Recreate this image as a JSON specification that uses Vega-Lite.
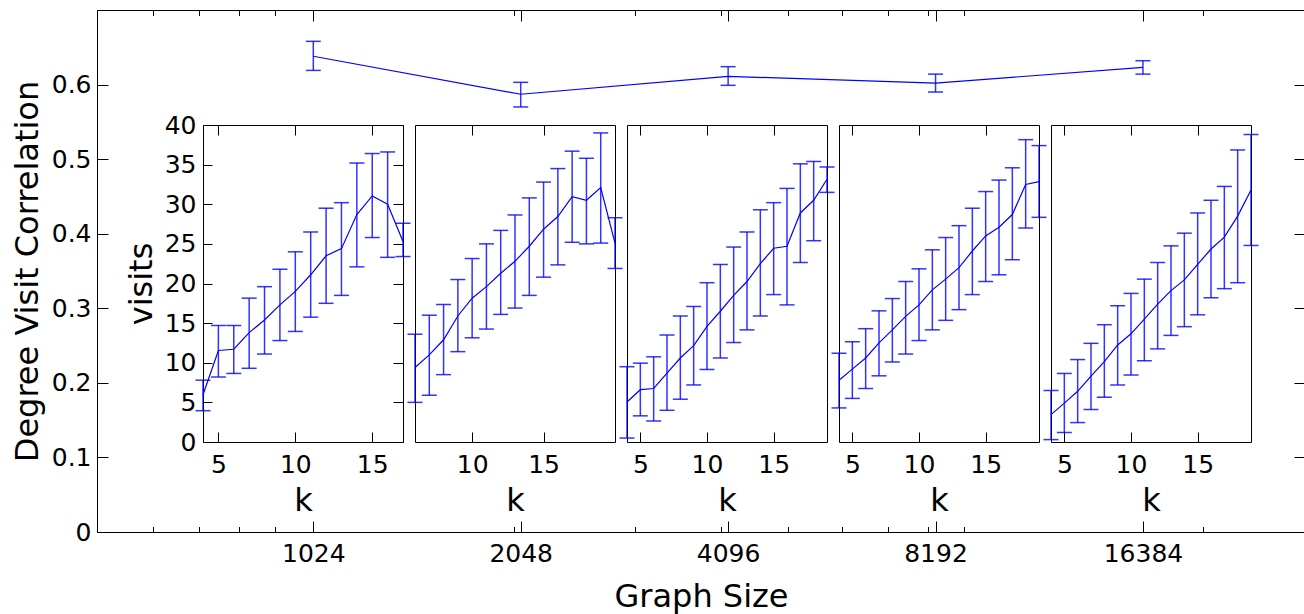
{
"$schema": "https://vega.github.io/schema/vega-lite/v6.json",
"width": 1208, "height": 522,
"autosize": {"type": "none"},
"padding": {"left": 97, "top": 10, "right": 0, "bottom": 82},
"background": "white",
"config": {
  "view": {"stroke": null},
  "axis": {"grid": false, "domainColor": "black", "tickColor": "black", "labelColor": "black", "titleColor": "black",
           "labelFont": "DejaVu Sans", "titleFont": "DejaVu Sans", "labelFontSize": 25, "titleFontSize": 32,
           "titleFontWeight": "normal", "labelFlush": false, "labelOverlap": false, "tickWidth": 1, "domainWidth": 1}
},
"datasets": {
  "main": [
    {"size": 1024, "mean": 0.638, "lower": 0.619, "upper": 0.658},
    {"size": 2048, "mean": 0.587, "lower": 0.570, "upper": 0.603},
    {"size": 4096, "mean": 0.611, "lower": 0.599, "upper": 0.624},
    {"size": 8192, "mean": 0.602, "lower": 0.590, "upper": 0.614},
    {"size": 16384, "mean": 0.623, "lower": 0.614, "upper": 0.632}
  ],
  "s1024": [
    {"k": 4, "mean": 5.97, "lower": 3.95, "upper": 7.8},
    {"k": 5, "mean": 11.55, "lower": 8.2, "upper": 14.7},
    {"k": 6, "mean": 11.7, "lower": 8.65, "upper": 14.7},
    {"k": 7, "mean": 13.8, "lower": 9.3, "upper": 18.15},
    {"k": 8, "mean": 15.4, "lower": 11.1, "upper": 19.6},
    {"k": 9, "mean": 17.3, "lower": 12.8, "upper": 21.8},
    {"k": 10, "mean": 19.0, "lower": 13.95, "upper": 24.0},
    {"k": 11, "mean": 21.1, "lower": 15.75, "upper": 26.5},
    {"k": 12, "mean": 23.5, "lower": 17.5, "upper": 29.5},
    {"k": 13, "mean": 24.4, "lower": 18.5, "upper": 30.2},
    {"k": 14, "mean": 28.7, "lower": 22.1, "upper": 35.2},
    {"k": 15, "mean": 31.05, "lower": 25.8, "upper": 36.4},
    {"k": 16, "mean": 30.0, "lower": 23.3, "upper": 36.6},
    {"k": 17, "mean": 25.3, "lower": 23.4, "upper": 27.6}
  ],
  "s2048": [
    {"k": 6, "mean": 9.4, "lower": 5.0, "upper": 13.6},
    {"k": 7, "mean": 11.0, "lower": 5.9, "upper": 16.0},
    {"k": 8, "mean": 12.9, "lower": 8.5, "upper": 17.35},
    {"k": 9, "mean": 15.9, "lower": 11.4, "upper": 20.5},
    {"k": 10, "mean": 18.15, "lower": 13.15, "upper": 23.15},
    {"k": 11, "mean": 19.6, "lower": 14.25, "upper": 25.0},
    {"k": 12, "mean": 21.3, "lower": 16.1, "upper": 26.7},
    {"k": 13, "mean": 22.8, "lower": 16.9, "upper": 28.65},
    {"k": 14, "mean": 24.7, "lower": 18.5, "upper": 30.8},
    {"k": 15, "mean": 26.85, "lower": 20.8, "upper": 32.8},
    {"k": 16, "mean": 28.45, "lower": 22.35, "upper": 34.5},
    {"k": 17, "mean": 30.95, "lower": 25.2, "upper": 36.7},
    {"k": 18, "mean": 30.5, "lower": 25.0, "upper": 35.8},
    {"k": 19, "mean": 32.1, "lower": 25.1, "upper": 39.0},
    {"k": 20, "mean": 25.1, "lower": 21.9, "upper": 28.3}
  ],
  "s4096": [
    {"k": 4, "mean": 5.04, "lower": 0.5, "upper": 9.5},
    {"k": 5, "mean": 6.6, "lower": 3.3, "upper": 9.95},
    {"k": 6, "mean": 6.75, "lower": 2.65, "upper": 10.75},
    {"k": 7, "mean": 8.7, "lower": 4.0, "upper": 13.5},
    {"k": 8, "mean": 10.6, "lower": 5.4, "upper": 15.9},
    {"k": 9, "mean": 12.15, "lower": 7.2, "upper": 17.1},
    {"k": 10, "mean": 14.6, "lower": 9.15, "upper": 20.1},
    {"k": 11, "mean": 16.5, "lower": 10.6, "upper": 22.4},
    {"k": 12, "mean": 18.5, "lower": 12.55, "upper": 24.6},
    {"k": 13, "mean": 20.25, "lower": 14.15, "upper": 26.5},
    {"k": 14, "mean": 22.5, "lower": 15.9, "upper": 29.3},
    {"k": 15, "mean": 24.45, "lower": 18.6, "upper": 30.2},
    {"k": 16, "mean": 24.7, "lower": 17.3, "upper": 32.0},
    {"k": 17, "mean": 28.9, "lower": 22.65, "upper": 35.1},
    {"k": 18, "mean": 30.5, "lower": 25.4, "upper": 35.4},
    {"k": 19, "mean": 33.15, "lower": 31.5, "upper": 34.7}
  ],
  "s8192": [
    {"k": 4, "mean": 7.8, "lower": 4.3, "upper": 11.2},
    {"k": 5, "mean": 9.2, "lower": 5.5, "upper": 12.65},
    {"k": 6, "mean": 10.6, "lower": 6.75, "upper": 14.3},
    {"k": 7, "mean": 12.5, "lower": 8.35, "upper": 16.55},
    {"k": 8, "mean": 14.15, "lower": 10.1, "upper": 18.1},
    {"k": 9, "mean": 15.85, "lower": 11.1, "upper": 20.25},
    {"k": 10, "mean": 17.3, "lower": 12.8, "upper": 21.85},
    {"k": 11, "mean": 19.2, "lower": 14.15, "upper": 24.25},
    {"k": 12, "mean": 20.55, "lower": 15.35, "upper": 25.8},
    {"k": 13, "mean": 22.0, "lower": 16.7, "upper": 27.3},
    {"k": 14, "mean": 24.1, "lower": 18.6, "upper": 29.5},
    {"k": 15, "mean": 26.0, "lower": 20.25, "upper": 31.6},
    {"k": 16, "mean": 27.1, "lower": 21.1, "upper": 33.05},
    {"k": 17, "mean": 28.7, "lower": 23.0, "upper": 34.6},
    {"k": 18, "mean": 32.5, "lower": 27.0, "upper": 38.15},
    {"k": 19, "mean": 32.85, "lower": 28.35, "upper": 37.4}
  ],
  "s16384": [
    {"k": 4, "mean": 3.45, "lower": 0.3, "upper": 6.5},
    {"k": 5, "mean": 4.9, "lower": 1.2, "upper": 8.65},
    {"k": 6, "mean": 6.4, "lower": 2.45, "upper": 10.4},
    {"k": 7, "mean": 8.3, "lower": 4.1, "upper": 12.45},
    {"k": 8, "mean": 10.15, "lower": 5.65, "upper": 14.8},
    {"k": 9, "mean": 12.25, "lower": 7.2, "upper": 17.2},
    {"k": 10, "mean": 13.65, "lower": 8.45, "upper": 18.75},
    {"k": 11, "mean": 15.5, "lower": 10.25, "upper": 20.55},
    {"k": 12, "mean": 17.4, "lower": 11.75, "upper": 22.65},
    {"k": 13, "mean": 19.1, "lower": 13.45, "upper": 24.75},
    {"k": 14, "mean": 20.45, "lower": 14.55, "upper": 26.35},
    {"k": 15, "mean": 22.4, "lower": 16.05, "upper": 28.9},
    {"k": 16, "mean": 24.35, "lower": 18.2, "upper": 30.5},
    {"k": 17, "mean": 25.85, "lower": 19.35, "upper": 32.25},
    {"k": 18, "mean": 28.5, "lower": 20.1, "upper": 36.85},
    {"k": 19, "mean": 31.8, "lower": 24.8, "upper": 38.8}
  ]
},
"resolve": {"scale": {"x": "independent", "y": "independent"}, "axis": {"x": "independent", "y": "independent"}},
"layer": [
  {"data": {"name": "main"}, "mark": {"type": "line", "color": "#0000ff", "strokeWidth": 1.2},
   "encoding": {
     "x": {"field": "size", "type": "quantitative", "scale": {"type": "log", "domain": [497, 28160], "range": [0, 1208], "nice": false},
           "axis": {"orient": "bottom", "values": [1024, 2048, 4096, 8192, 16384], "format": "d", "tickSize": -11, "labelPadding": 20, "title": "Graph Size", "titlePadding": 15.5}},
     "y": {"field": "mean", "type": "quantitative", "scale": {"domain": [0, 0.7], "range": [522, 0], "nice": false, "zero": false},
           "axis": {"orient": "left", "values": [0, 0.1, 0.2, 0.3, 0.4, 0.5, 0.6], "format": "~g", "tickSize": -11, "labelPadding": 17, "title": "Degree Visit Correlation", "titlePadding": 7}}}},
  {"data": {"name": "main"}, "mark": {"type": "rule", "color": "#0000ff", "strokeWidth": 1.5, "opacity": 0.8},
   "encoding": {
     "x": {"field": "size", "type": "quantitative", "scale": {"type": "log", "domain": [497, 28160], "range": [0, 1208], "nice": false},
           "axis": {"orient": "top", "values": [1024, 2048, 4096, 8192, 16384], "tickSize": -11, "labels": false, "title": null}},
     "y": {"field": "lower", "type": "quantitative", "scale": {"domain": [0, 0.7], "range": [522, 0], "nice": false, "zero": false},
           "axis": {"orient": "right", "values": [0, 0.1, 0.2, 0.3, 0.4, 0.5, 0.6], "tickSize": -11, "labels": false, "title": null}},
     "y2": {"field": "upper"}}},
  {"data": {"name": "main"}, "mark": {"type": "tick", "orient": "horizontal", "size": 15, "thickness": 1.5, "color": "#0000ff", "opacity": 0.8},
   "encoding": {
     "x": {"field": "size", "type": "quantitative", "scale": {"type": "log", "domain": [497, 28160], "range": [0, 1208], "nice": false},
           "axis": {"orient": "bottom", "values": [600, 700, 800, 900, 2000, 3000, 4000, 5000, 6000, 7000, 8000, 9000, 20000], "tickSize": -5.5, "labels": false, "title": null}},
     "y": {"field": "upper", "type": "quantitative", "scale": {"domain": [0, 0.7], "range": [522, 0], "nice": false, "zero": false}, "axis": null}}},
  {"data": {"name": "main"}, "mark": {"type": "tick", "orient": "horizontal", "size": 15, "thickness": 1.5, "color": "#0000ff", "opacity": 0.8},
   "encoding": {
     "x": {"field": "size", "type": "quantitative", "scale": {"type": "log", "domain": [497, 28160], "range": [0, 1208], "nice": false},
           "axis": {"orient": "top", "values": [600, 700, 800, 900, 2000, 3000, 4000, 5000, 6000, 7000, 8000, 9000, 20000], "tickSize": -5.5, "labels": false, "title": null}},
     "y": {"field": "lower", "type": "quantitative", "scale": {"domain": [0, 0.7], "range": [522, 0], "nice": false, "zero": false}, "axis": null}}},

  {"data": {"name": "s1024"}, "mark": {"type": "line", "color": "#0000ff", "strokeWidth": 1.2},
   "encoding": {
     "x": {"field": "k", "type": "quantitative", "scale": {"domain": [4, 17], "range": [106, 306], "nice": false, "zero": false},
           "axis": {"orient": "bottom", "offset": -90, "values": [5, 10, 15], "tickSize": -10, "labelPadding": 20, "title": "k", "titlePadding": 8}},
     "y": {"field": "mean", "type": "quantitative", "scale": {"domain": [0, 40], "range": [432, 115], "nice": false, "zero": false},
           "axis": {"orient": "left", "offset": -106, "values": [0, 5, 10, 15, 20, 25, 30, 35, 40], "tickSize": -9, "labelPadding": 16, "title": "visits", "titlePadding": 6}}}},
  {"data": {"name": "s1024"}, "mark": {"type": "rule", "color": "#0000ff", "strokeWidth": 1.5, "opacity": 0.8},
   "encoding": {
     "x": {"field": "k", "type": "quantitative", "scale": {"domain": [4, 17], "range": [106, 306], "nice": false, "zero": false},
           "axis": {"orient": "top", "offset": -115, "values": [5, 10, 15], "tickSize": -10, "labels": false, "title": null}},
     "y": {"field": "lower", "type": "quantitative", "scale": {"domain": [0, 40], "range": [432, 115], "nice": false, "zero": false},
           "axis": {"orient": "right", "offset": -902, "values": [0, 5, 10, 15, 20, 25, 30, 35, 40], "tickSize": -10, "labels": false, "title": null}},
     "y2": {"field": "upper"}}},
  {"data": {"name": "s1024"}, "mark": {"type": "tick", "orient": "horizontal", "size": 15, "thickness": 1.5, "color": "#0000ff", "opacity": 0.8},
   "encoding": {
     "x": {"field": "k", "type": "quantitative", "scale": {"domain": [4, 17], "range": [106, 306], "nice": false, "zero": false}, "axis": null},
     "y": {"field": "upper", "type": "quantitative", "scale": {"domain": [0, 40], "range": [432, 115], "nice": false, "zero": false}, "axis": null}}},
  {"data": {"name": "s1024"}, "mark": {"type": "tick", "orient": "horizontal", "size": 15, "thickness": 1.5, "color": "#0000ff", "opacity": 0.8},
   "encoding": {
     "x": {"field": "k", "type": "quantitative", "scale": {"domain": [4, 17], "range": [106, 306], "nice": false, "zero": false}, "axis": null},
     "y": {"field": "lower", "type": "quantitative", "scale": {"domain": [0, 40], "range": [432, 115], "nice": false, "zero": false}, "axis": null}}},

  {"data": {"name": "s2048"}, "mark": {"type": "line", "color": "#0000ff", "strokeWidth": 1.2},
   "encoding": {
     "x": {"field": "k", "type": "quantitative", "scale": {"domain": [6, 20], "range": [318, 518], "nice": false, "zero": false},
           "axis": {"orient": "bottom", "offset": -90, "values": [10, 15], "tickSize": -10, "labelPadding": 20, "title": "k", "titlePadding": 8}},
     "y": {"field": "mean", "type": "quantitative", "scale": {"domain": [0, 40], "range": [432, 115], "nice": false, "zero": false},
           "axis": {"orient": "left", "offset": -318, "ticks": false, "labels": false, "title": null}}}},
  {"data": {"name": "s2048"}, "mark": {"type": "rule", "color": "#0000ff", "strokeWidth": 1.5, "opacity": 0.8},
   "encoding": {
     "x": {"field": "k", "type": "quantitative", "scale": {"domain": [6, 20], "range": [318, 518], "nice": false, "zero": false},
           "axis": {"orient": "top", "offset": -115, "values": [10, 15], "tickSize": -10, "labels": false, "title": null}},
     "y": {"field": "lower", "type": "quantitative", "scale": {"domain": [0, 40], "range": [432, 115], "nice": false, "zero": false},
           "axis": {"orient": "right", "offset": -690, "ticks": false, "labels": false, "title": null}},
     "y2": {"field": "upper"}}},
  {"data": {"name": "s2048"}, "mark": {"type": "tick", "orient": "horizontal", "size": 15, "thickness": 1.5, "color": "#0000ff", "opacity": 0.8},
   "encoding": {
     "x": {"field": "k", "type": "quantitative", "scale": {"domain": [6, 20], "range": [318, 518], "nice": false, "zero": false}, "axis": null},
     "y": {"field": "upper", "type": "quantitative", "scale": {"domain": [0, 40], "range": [432, 115], "nice": false, "zero": false}, "axis": null}}},
  {"data": {"name": "s2048"}, "mark": {"type": "tick", "orient": "horizontal", "size": 15, "thickness": 1.5, "color": "#0000ff", "opacity": 0.8},
   "encoding": {
     "x": {"field": "k", "type": "quantitative", "scale": {"domain": [6, 20], "range": [318, 518], "nice": false, "zero": false}, "axis": null},
     "y": {"field": "lower", "type": "quantitative", "scale": {"domain": [0, 40], "range": [432, 115], "nice": false, "zero": false}, "axis": null}}},

  {"data": {"name": "s4096"}, "mark": {"type": "line", "color": "#0000ff", "strokeWidth": 1.2},
   "encoding": {
     "x": {"field": "k", "type": "quantitative", "scale": {"domain": [4, 19], "range": [530, 730], "nice": false, "zero": false},
           "axis": {"orient": "bottom", "offset": -90, "values": [5, 10, 15], "tickSize": -10, "labelPadding": 20, "title": "k", "titlePadding": 8}},
     "y": {"field": "mean", "type": "quantitative", "scale": {"domain": [0, 40], "range": [432, 115], "nice": false, "zero": false},
           "axis": {"orient": "left", "offset": -530, "ticks": false, "labels": false, "title": null}}}},
  {"data": {"name": "s4096"}, "mark": {"type": "rule", "color": "#0000ff", "strokeWidth": 1.5, "opacity": 0.8},
   "encoding": {
     "x": {"field": "k", "type": "quantitative", "scale": {"domain": [4, 19], "range": [530, 730], "nice": false, "zero": false},
           "axis": {"orient": "top", "offset": -115, "values": [5, 10, 15], "tickSize": -10, "labels": false, "title": null}},
     "y": {"field": "lower", "type": "quantitative", "scale": {"domain": [0, 40], "range": [432, 115], "nice": false, "zero": false},
           "axis": {"orient": "right", "offset": -478, "ticks": false, "labels": false, "title": null}},
     "y2": {"field": "upper"}}},
  {"data": {"name": "s4096"}, "mark": {"type": "tick", "orient": "horizontal", "size": 15, "thickness": 1.5, "color": "#0000ff", "opacity": 0.8},
   "encoding": {
     "x": {"field": "k", "type": "quantitative", "scale": {"domain": [4, 19], "range": [530, 730], "nice": false, "zero": false}, "axis": null},
     "y": {"field": "upper", "type": "quantitative", "scale": {"domain": [0, 40], "range": [432, 115], "nice": false, "zero": false}, "axis": null}}},
  {"data": {"name": "s4096"}, "mark": {"type": "tick", "orient": "horizontal", "size": 15, "thickness": 1.5, "color": "#0000ff", "opacity": 0.8},
   "encoding": {
     "x": {"field": "k", "type": "quantitative", "scale": {"domain": [4, 19], "range": [530, 730], "nice": false, "zero": false}, "axis": null},
     "y": {"field": "lower", "type": "quantitative", "scale": {"domain": [0, 40], "range": [432, 115], "nice": false, "zero": false}, "axis": null}}},

  {"data": {"name": "s8192"}, "mark": {"type": "line", "color": "#0000ff", "strokeWidth": 1.2},
   "encoding": {
     "x": {"field": "k", "type": "quantitative", "scale": {"domain": [4, 19], "range": [742, 942], "nice": false, "zero": false},
           "axis": {"orient": "bottom", "offset": -90, "values": [5, 10, 15], "tickSize": -10, "labelPadding": 20, "title": "k", "titlePadding": 8}},
     "y": {"field": "mean", "type": "quantitative", "scale": {"domain": [0, 40], "range": [432, 115], "nice": false, "zero": false},
           "axis": {"orient": "left", "offset": -742, "ticks": false, "labels": false, "title": null}}}},
  {"data": {"name": "s8192"}, "mark": {"type": "rule", "color": "#0000ff", "strokeWidth": 1.5, "opacity": 0.8},
   "encoding": {
     "x": {"field": "k", "type": "quantitative", "scale": {"domain": [4, 19], "range": [742, 942], "nice": false, "zero": false},
           "axis": {"orient": "top", "offset": -115, "values": [5, 10, 15], "tickSize": -10, "labels": false, "title": null}},
     "y": {"field": "lower", "type": "quantitative", "scale": {"domain": [0, 40], "range": [432, 115], "nice": false, "zero": false},
           "axis": {"orient": "right", "offset": -266, "ticks": false, "labels": false, "title": null}},
     "y2": {"field": "upper"}}},
  {"data": {"name": "s8192"}, "mark": {"type": "tick", "orient": "horizontal", "size": 15, "thickness": 1.5, "color": "#0000ff", "opacity": 0.8},
   "encoding": {
     "x": {"field": "k", "type": "quantitative", "scale": {"domain": [4, 19], "range": [742, 942], "nice": false, "zero": false}, "axis": null},
     "y": {"field": "upper", "type": "quantitative", "scale": {"domain": [0, 40], "range": [432, 115], "nice": false, "zero": false}, "axis": null}}},
  {"data": {"name": "s8192"}, "mark": {"type": "tick", "orient": "horizontal", "size": 15, "thickness": 1.5, "color": "#0000ff", "opacity": 0.8},
   "encoding": {
     "x": {"field": "k", "type": "quantitative", "scale": {"domain": [4, 19], "range": [742, 942], "nice": false, "zero": false}, "axis": null},
     "y": {"field": "lower", "type": "quantitative", "scale": {"domain": [0, 40], "range": [432, 115], "nice": false, "zero": false}, "axis": null}}},

  {"data": {"name": "s16384"}, "mark": {"type": "line", "color": "#0000ff", "strokeWidth": 1.2},
   "encoding": {
     "x": {"field": "k", "type": "quantitative", "scale": {"domain": [4, 19], "range": [954, 1154], "nice": false, "zero": false},
           "axis": {"orient": "bottom", "offset": -90, "values": [5, 10, 15], "tickSize": -10, "labelPadding": 20, "title": "k", "titlePadding": 8}},
     "y": {"field": "mean", "type": "quantitative", "scale": {"domain": [0, 40], "range": [432, 115], "nice": false, "zero": false},
           "axis": {"orient": "left", "offset": -954, "ticks": false, "labels": false, "title": null}}}},
  {"data": {"name": "s16384"}, "mark": {"type": "rule", "color": "#0000ff", "strokeWidth": 1.5, "opacity": 0.8},
   "encoding": {
     "x": {"field": "k", "type": "quantitative", "scale": {"domain": [4, 19], "range": [954, 1154], "nice": false, "zero": false},
           "axis": {"orient": "top", "offset": -115, "values": [5, 10, 15], "tickSize": -10, "labels": false, "title": null}},
     "y": {"field": "lower", "type": "quantitative", "scale": {"domain": [0, 40], "range": [432, 115], "nice": false, "zero": false},
           "axis": {"orient": "right", "offset": -54, "ticks": false, "labels": false, "title": null}},
     "y2": {"field": "upper"}}},
  {"data": {"name": "s16384"}, "mark": {"type": "tick", "orient": "horizontal", "size": 15, "thickness": 1.5, "color": "#0000ff", "opacity": 0.8},
   "encoding": {
     "x": {"field": "k", "type": "quantitative", "scale": {"domain": [4, 19], "range": [954, 1154], "nice": false, "zero": false}, "axis": null},
     "y": {"field": "upper", "type": "quantitative", "scale": {"domain": [0, 40], "range": [432, 115], "nice": false, "zero": false}, "axis": null}}},
  {"data": {"name": "s16384"}, "mark": {"type": "tick", "orient": "horizontal", "size": 15, "thickness": 1.5, "color": "#0000ff", "opacity": 0.8},
   "encoding": {
     "x": {"field": "k", "type": "quantitative", "scale": {"domain": [4, 19], "range": [954, 1154], "nice": false, "zero": false}, "axis": null},
     "y": {"field": "lower", "type": "quantitative", "scale": {"domain": [0, 40], "range": [432, 115], "nice": false, "zero": false}, "axis": null}}}
]
}
